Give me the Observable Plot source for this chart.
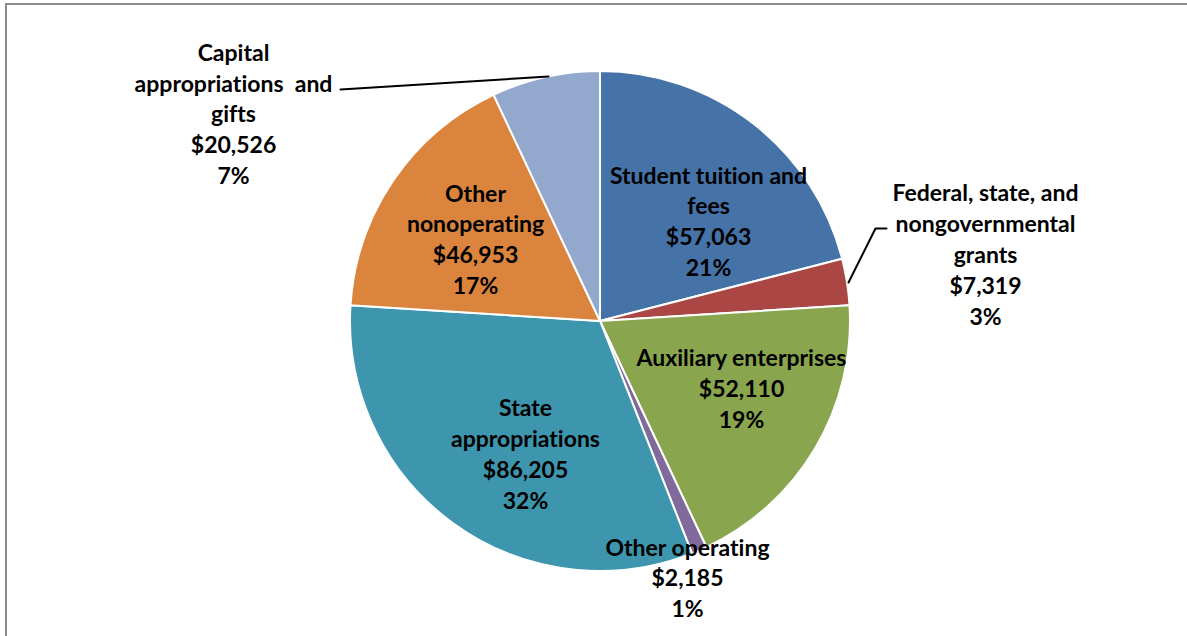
<!DOCTYPE html>
<html><head><meta charset="utf-8">
<script src="https://cdn.jsdelivr.net/npm/d3@7"></script>
<script src="https://cdn.jsdelivr.net/npm/@observablehq/plot@0.6"></script>
<style>
html,body{margin:0;padding:0;background:#fff;overflow:hidden;width:1187px;height:636px;}
#chart{position:absolute;left:0;top:0;}
#chart svg text{font-variant-ligatures:none;font-feature-settings:"liga" 0;}
#frame{position:absolute;left:5px;top:3px;width:3000px;height:3000px;border-left:2px solid #8c8c8c;border-top:2px solid #8c8c8c;pointer-events:none;}
</style></head><body>
<div id="chart"></div><div id="frame"></div>
<script>
// ---- data ----
const categories = ["Student tuition and fees", "Federal, state, and nongovernmental grants", "Auxiliary enterprises", "Other operating", "State appropriations", "Other nonoperating", "Capital appropriations and gifts"];
const values = [57063, 7319, 52110, 2185, 86205, 46953, 20526];
const percents = [21, 3, 19, 1, 32, 17, 7];
const labelNames = ["Student tuition and\nfees", "Federal, state, and\nnongovernmental\ngrants", "Auxiliary enterprises", "Other operating", "State\nappropriations", "Other\nnonoperating", "Capital\nappropriations  and\ngifts"];

// ---- styles / layout (pie radius = 1 data unit, centre at 0,0) ----
const colors = ["#4572A7", "#AA4643", "#89A54E", "#80699B", "#3D96AE", "#DB843D", "#92A8CD"];
const labelX = [0.432, 1.54, 0.564, 0.348, -0.30, -0.50, -1.468];
const labelY = [0.406, 0.274, -0.262, -1.02, -0.524, 0.334, 0.836];
const leaderLines = [
  [[-1.04, 0.928], [-0.208, 0.98]],
  [[0.992, 0.156], [1.10, 0.372], [1.144, 0.372]]
];

const fmt = d3.format("$,");
const labels = categories.map((c, i) => ({
  text: `${labelNames[i]}\n${fmt(values[i])}\n${percents[i]}%`,
  x: labelX[i], y: labelY[i]
}));
const leaders = leaderLines.flatMap((pts, id) => pts.map(([x, y]) => ({id, x, y})));

function pieMark(index, scales) {
  const cx = scales.x(0), cy = scales.y(0);
  const r = scales.x(1) - scales.x(0);
  const arcs = d3.pie().sort(null).value(d => d)(percents);
  const g = d3.create("svg:g").attr("transform", `translate(${cx},${cy})`);
  g.selectAll("path").data(arcs).join("path")
    .attr("d", d3.arc().innerRadius(0).outerRadius(r))
    .attr("fill", (d, i) => colors[i])
    .attr("stroke", "#fff")
    .attr("stroke-width", 2)
    .attr("stroke-linejoin", "round");
  return g.node();
}

const W = 1187, H = 636, R = 250, CX = 600, CY = 321;
const plot = Plot.plot({
  width: W, height: H,
  margin: 0,
  style: {fontFamily: "Lato, 'Open Sans', sans-serif", background: "transparent"},
  x: {domain: [-CX / R, (W - CX) / R], range: [0, W], axis: null},
  y: {domain: [(CY - H) / R, CY / R], range: [H, 0], axis: null},
  marks: [
    pieMark,
    Plot.line(leaders, {x: "x", y: "y", z: "id", stroke: "black", strokeWidth: 2}),
    Plot.text(labels, {x: "x", y: "y", text: "text", fontSize: 23, fontWeight: "bold", lineHeight: 1.34, lineAnchor: "middle", fill: "black"})
  ]
});
document.getElementById("chart").appendChild(plot);
</script>
</body></html>
